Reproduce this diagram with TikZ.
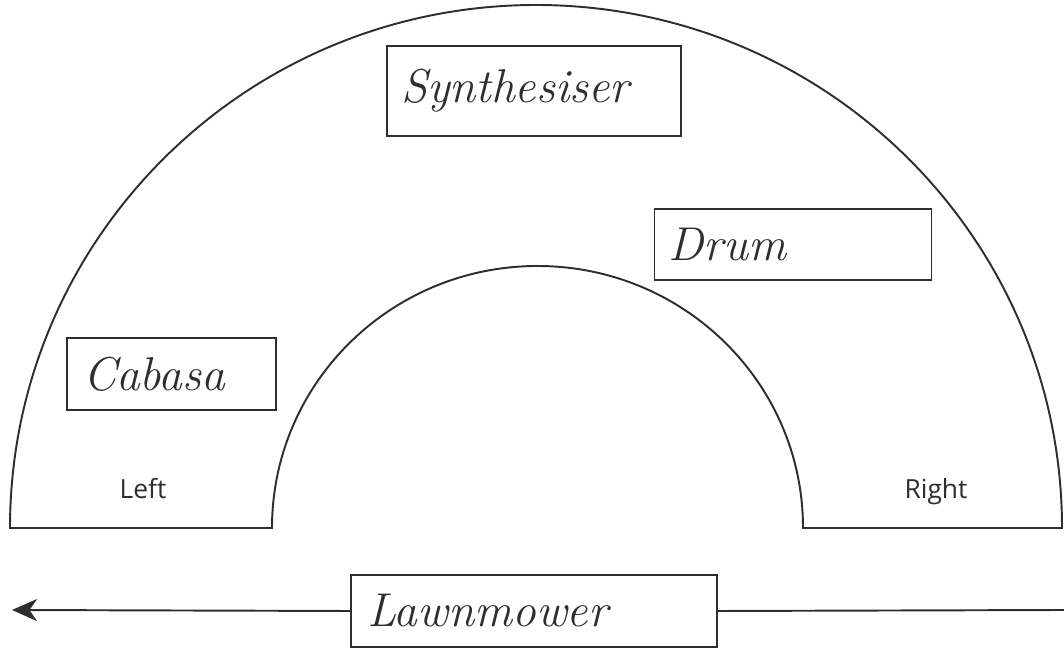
\documentclass[tikz,border=0pt]{standalone}
\usepackage{fontspec}
\newfontfamily\labelfont{Open Sans}
\usetikzlibrary{arrows.meta,positioning,calc}
\definecolor{ink}{HTML}{2E2E2E}

\begin{document}
\begin{tikzpicture}[x=0.02cm,y=0.02cm,line width=1.1pt,draw=ink,
  box/.style={draw=ink,line width=1.1pt,inner sep=0pt,minimum height=#1,font=\fontsize{27}{30}\selectfont\itshape,text=ink},
  side/.style={font=\labelfont\fontsize{15}{17}\selectfont,text=ink,anchor=base},
  >={Stealth[length=5mm,width=4.4mm,inset=1.5mm]}]
\useasboundingbox (0,0) rectangle (1064,648);
% stage outline
\draw[ink] (10,120) arc[start angle=180,end angle=0,x radius=526,y radius=523]
  -- (803,120) arc[start angle=0,end angle=180,x radius=265.5,y radius=262] -- cycle;
\node[box=90*0.02cm,text width=266*0.02cm,inner xsep=14*0.02cm,align=left] (synth) at (534,557) {Synthesiser};
\node[box=71*0.02cm,text width=249*0.02cm,inner xsep=14*0.02cm,align=left] (drum) at (793,403.5) {Drum};
\node[box=72*0.02cm,text width=177*0.02cm,inner xsep=16*0.02cm,align=left] (cabasa) at (171.5,274) {Cabasa};
\node[box=72*0.02cm,text width=334*0.02cm,inner xsep=16*0.02cm,align=left] (mower) at (534,37) {Lawnmower};
\node[side] (left) at (143,149) {Left};
\node[side] (right) at (936,149) {Right};
% direction of travel
\coordinate (farleft) at (12,38);
\coordinate (farright) at (1064,38);
\draw[->,ink] (mower.west) -- (farleft);
\draw[ink] (farright) -- (mower.east);
\end{tikzpicture}
\end{document}
